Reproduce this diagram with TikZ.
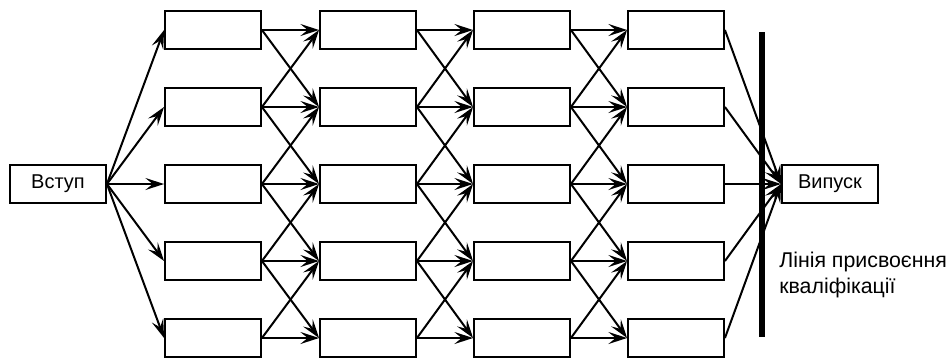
\documentclass[tikz,border=0pt]{standalone}
\usepackage{fontspec}
\setmainfont{Liberation Sans}
\usetikzlibrary{arrows.meta}

\begin{document}
\begin{tikzpicture}[x=0.75pt,y=-0.75pt,
    font=\fontsize{15}{19.5}\selectfont,
    box/.style={draw, line width=1.4pt, minimum width=72pt, minimum height=28pt, inner sep=0pt},
    flow/.style={-{Stealth[length=14pt,width=9pt,inset=5.5pt]}, line width=1.5pt}]
    \useasboundingbox (0,0) rectangle (952,358);
    % entry and exit
    \node[box] (in)  at (58,184)  {Вступ};
    \node[box] (out) at (830,184) {Випуск};
    % grid of stages
    \foreach \c/\x in {1/213,2/368,3/522,4/676}
      \foreach \r/\y in {1/30,2/107,3/184,4/261,5/338}
        \node[box] (b\c\r) at (\x,\y) {};
    % connectors
    \foreach \r in {1,...,5} {
      \draw[flow] (in.east) -- (b1\r.west);
      \draw[flow] (b4\r.east) -- (out.west);
    }
    \foreach \c/\n in {1/2,2/3,3/4} {
      \foreach \r in {1,...,5}
        \draw[flow] (b\c\r.east) -- (b\n\r.west);
      \foreach \r/\s in {1/2,2/3,3/4,4/5} {
        \draw[flow] (b\c\r.east) -- (b\n\s.west);
        \draw[flow] (b\c\s.east) -- (b\n\r.west);
      }
    }
    % qualification line
    \coordinate (qtop) at (762,32);
    \coordinate (qbot) at (762,337);
    \draw[line width=3.8pt] (qtop) -- (qbot);
    \node[anchor=base west, align=left, inner sep=0pt, font=\fontsize{16}{19.5}\selectfont]
      (qlabel) at (779,293) {Лінія присвоєння\\кваліфікації};
\end{tikzpicture}
\end{document}
